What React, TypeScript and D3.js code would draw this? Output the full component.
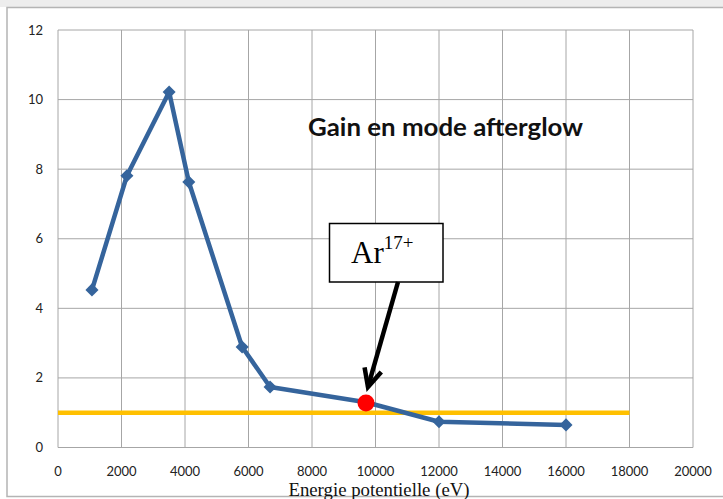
import React from "react";
import * as d3 from "d3";

const energies = [1070, 2170, 3500, 4120, 5800, 6680, 9700, 12000, 16000];
const gains = [4.53, 7.81, 10.22, 7.63, 2.89, 1.74, 1.3, 0.74, 0.65];
const thresholdX = [0, 18000];
const thresholdY = [1, 1];
const highlightPoint = { x: 9700, y: 1.28, label: "Ar", sup: "17+" };
const xTicks = [0, 2000, 4000, 6000, 8000, 10000, 12000, 14000, 16000, 18000, 20000];
const yTicks = [0, 2, 4, 6, 8, 10, 12];
const title = "Gain en mode afterglow";
const xLabel = "Energie potentielle (eV)";

export default function App() {
  const W = 723, H = 499;
  const x = d3.scaleLinear().domain([0, 20000]).range([58, 693]);
  const y = d3.scaleLinear().domain([0, 12]).range([447.5, 30]);
  const line = d3.line<number>().x((d, i) => x(energies[i])).y((d) => y(d));
  const diamond = d3.symbol().type(d3.symbolSquare).size(85)();
  const hx = x(highlightPoint.x), hy = y(highlightPoint.y);
  const tick = "Lato, 'Open Sans', sans-serif";
  const grid = "#a6a6a6";
  // arrow geometry
  const ax0 = 398, ay0 = 282, ax1 = hx + 2, ay1 = hy - 16;
  const ang = Math.atan2(ay1 - ay0, ax1 - ax0);
  const wing = 20, spread = 0.45;
  const w1 = [ax1 - wing * Math.cos(ang - spread), ay1 - wing * Math.sin(ang - spread)];
  const w2 = [ax1 - wing * Math.cos(ang + spread), ay1 - wing * Math.sin(ang + spread)];
  return (
    <svg width={W} height={H} style={{ position: "absolute", left: 0, top: 0, background: "#fff" }}>
      <rect x={0} y={0} width={W} height={7} fill="#ededed" />
      <rect x={7} y={7.5} width={W} height={489} fill="#fff" stroke="#b4b4b4" strokeWidth={1.5} />
      {/* grid */}
      {xTicks.map((t) => (
        <line key={"gx" + t} x1={x(t)} x2={x(t)} y1={y(12)} y2={y(0)} stroke={grid} strokeWidth={1} />
      ))}
      {yTicks.map((t) => (
        <line key={"gy" + t} x1={x(0)} x2={x(20000)} y1={y(t)} y2={y(t)} stroke={grid} strokeWidth={1} />
      ))}
      {/* tick labels */}
      {yTicks.map((t) => (
        <text key={"ty" + t} x={43} y={y(t) + 4.5} textAnchor="end" fontFamily={tick} fontSize={13} fill="#222">{t}</text>
      ))}
      {xTicks.map((t) => (
        <text key={"tx" + t} x={x(t)} y={476} textAnchor="middle" fontFamily={tick} fontSize={13} fill="#222">{t}</text>
      ))}
      {/* threshold */}
      <line x1={x(thresholdX[0])} x2={x(thresholdX[1])} y1={y(thresholdY[0])} y2={y(thresholdY[1])} stroke="#ffc000" strokeWidth={4.5} />
      {/* series */}
      <path d={line(gains) || ""} fill="none" stroke="#35649c" strokeWidth={4.5} strokeLinejoin="round" />
      {gains.map((g, i) => (
        <path key={"m" + i} d={diamond} transform={`translate(${x(energies[i])},${y(g)}) rotate(45)`} fill="#35649c" />
      ))}
      <circle cx={hx} cy={hy} r={8.5} fill="#ff0000" />
      {/* title */}
      <text x={308} y={136} fontFamily={tick} fontWeight="bold" fontSize={24} textLength={275} lengthAdjust="spacingAndGlyphs" fill="#111">{title}</text>
      {/* annotation */}
      <rect x={329.5} y={223.5} width={113.5} height={58.5} fill="#fff" stroke="#000" strokeWidth={1.5} />
      <text x={351} y={263} fontFamily="'Liberation Serif', 'Times New Roman', serif" fontSize={31} fill="#000">
        {highlightPoint.label}
        <tspan dy={-14} fontSize={19}>{highlightPoint.sup}</tspan>
      </text>
      <line x1={ax0} y1={ay0} x2={ax1} y2={ay1} stroke="#000" strokeWidth={4.5} />
      <polyline points={`${w1[0]},${w1[1]} ${ax1},${ay1} ${w2[0]},${w2[1]}`} fill="none" stroke="#000" strokeWidth={4.5} strokeLinejoin="miter" />
      {/* x label */}
      <text x={379} y={496} textAnchor="middle" fontFamily="'Liberation Serif', 'Times New Roman', serif" fontSize={18.8} fill="#111">{xLabel}</text>
    </svg>
  );
}
